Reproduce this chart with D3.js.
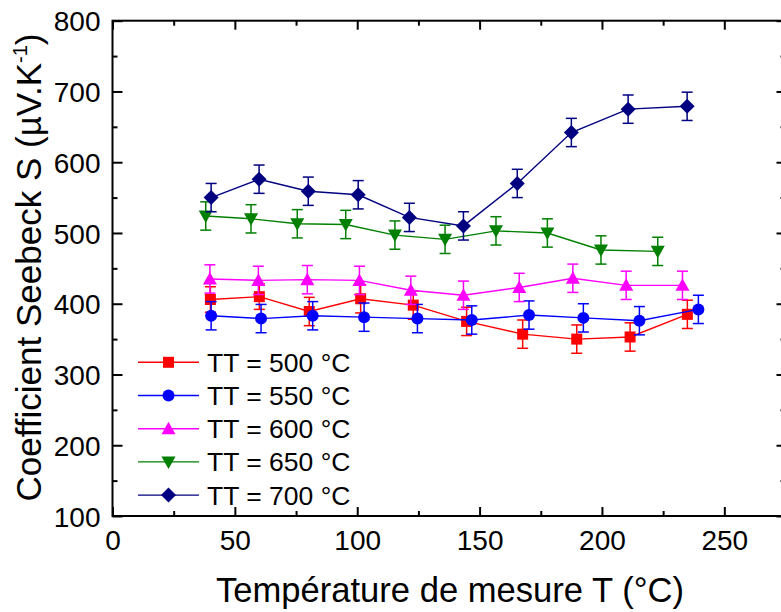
<!DOCTYPE html>
<html>
<head>
<meta charset="utf-8">
<script src="https://cdn.jsdelivr.net/npm/d3@7"></script>
<style>
html,body{margin:0;padding:0;background:#fff;overflow:hidden;}
svg{display:block;font-family:"Liberation Sans",Arial,sans-serif;}
</style>
</head>
<body>
<svg id="chart" width="781" height="612"></svg>
<script>
// ---- data ----
const seriesNames = ["TT = 500 °C", "TT = 550 °C", "TT = 600 °C", "TT = 650 °C", "TT = 700 °C"];
const seriesColors = ["#ff0000", "#0000ff", "#ff00ff", "#008000", "#000080"];
const seriesSymbols = ["square", "circle", "triangle", "triangleDown", "diamond"];

const x500 = [40, 60, 80.4, 101.4, 122.9, 144.7, 167.6, 189.7, 211.5, 234.9];
const s500 = [406, 410, 389, 407, 398, 375, 357, 350, 353, 385];
const e500 = [18, 18, 20, 20, 20, 20, 20, 20, 20, 20];

const x550 = [40.3, 60.7, 81.8, 102.8, 124.6, 146.8, 170.2, 192.4, 215.3, 239.4];
const s550 = [383, 379, 383, 381, 379, 377, 384, 380, 376, 392];
const e550 = [20, 20, 20, 20, 20, 20, 20, 20, 20, 20];

const x600 = [39.8, 59.6, 79.6, 100.9, 121.9, 143.4, 166.2, 188.1, 209.9, 232.9];
const s600 = [435, 433, 434, 433, 419, 412, 423, 436, 426, 426];
const e600 = [20, 20, 20, 20, 20, 20, 20, 20, 20, 20];

const x650 = [38.1, 56.6, 75.5, 95.3, 115.4, 135.9, 156.7, 177.7, 199.6, 222.8];
const s650 = [524, 520, 513, 512, 497, 491, 503, 500, 476, 474];
const e650 = [20, 20, 20, 20, 20, 20, 20, 20, 20, 20];

const x700 = [40.3, 59.9, 80.0, 100.4, 121.3, 143.4, 165.4, 187.5, 210.7, 234.8];
const s700 = [550, 576, 559, 554, 522, 510, 570, 642, 675, 679];
const e700 = [20, 20, 20, 20, 20, 20, 20, 20, 20, 20];

const xTicks = [0, 50, 100, 150, 200, 250];
const yTicks = [100, 200, 300, 400, 500, 600, 700, 800];
const xTitle = "Température de mesure T (°C)";
const yTitleMain = "Coefficient Seebeck S (µV.K";
const yTitleSup = "-1";
const yTitleEnd = ")";

const allX = [x500, x550, x600, x650, x700];
const allS = [s500, s550, s600, s650, s700];
const allE = [e500, e550, e600, e650, e700];

// ---- layout ----
const svg = d3.select("#chart");
const pLeft = 112.5, pRight = 785.5, pTop = 20.7, pBottom = 516;
const x = d3.scaleLinear().domain([0, 275]).range([pLeft, pRight]);
const y = d3.scaleLinear().domain([100, 800]).range([pBottom, pTop]);

const axisW = 2;
const g = svg.append("g");

// minor ticks
const xMinor = d3.range(25, 275, 50);
const yMinor = d3.range(150, 800, 100);

function drawAxis(axis, transform, ticks, size, labels) {
  const a = g.append("g").attr("transform", transform)
    .call(axis.tickValues(ticks).tickSizeInner(size).tickSizeOuter(0).tickFormat(labels ? d3.format("d") : ""));
  a.select(".domain").remove();
  a.selectAll(".tick line").attr("stroke", "#000").attr("stroke-width", 2);
  a.selectAll(".tick text").attr("fill", "#000").attr("font-size", 28).attr("font-family", "Liberation Sans, Arial, sans-serif");
  return a;
}
// bottom
const bx = drawAxis(d3.axisBottom(x), `translate(0,${pBottom})`, xTicks, -9, true);
bx.selectAll(".tick text").attr("y", 14).attr("dy", "0.71em");
drawAxis(d3.axisBottom(x), `translate(0,${pBottom})`, xMinor, -5, false);
// top
drawAxis(d3.axisTop(x), `translate(0,${pTop})`, xTicks, -9, false);
drawAxis(d3.axisTop(x), `translate(0,${pTop})`, xMinor, -5, false);
// left
const lyAx = drawAxis(d3.axisLeft(y), `translate(${pLeft},0)`, yTicks, -10, true);
lyAx.selectAll(".tick text").attr("x", -12).attr("dy", "0.36em");
drawAxis(d3.axisLeft(y), `translate(${pLeft},0)`, yMinor, -5, false);
// right
drawAxis(d3.axisRight(y), `translate(${pRight},0)`, yTicks, -9, false);
drawAxis(d3.axisRight(y), `translate(${pRight},0)`, yMinor, -5, false);

// frame
g.append("rect").attr("x", pLeft).attr("y", pTop).attr("width", pRight - pLeft).attr("height", pBottom - pTop)
  .attr("fill", "none").attr("stroke", "#000").attr("stroke-width", axisW);

// symbols
function drawSymbol(sel, type, cx, cy, color) {
  if (type === "square") {
    sel.append("rect").attr("x", cx - 5.5).attr("y", cy - 5.5).attr("width", 11).attr("height", 11).attr("fill", color);
  } else if (type === "circle") {
    sel.append("circle").attr("cx", cx).attr("cy", cy).attr("r", 6).attr("fill", color);
  } else if (type === "triangle") {
    sel.append("path").attr("d", `M${cx},${cy - 7}L${cx + 7},${cy + 5.5}L${cx - 7},${cy + 5.5}Z`).attr("fill", color);
  } else if (type === "triangleDown") {
    sel.append("path").attr("d", `M${cx},${cy + 7}L${cx + 7},${cy - 5.5}L${cx - 7},${cy - 5.5}Z`).attr("fill", color);
  } else if (type === "diamond") {
    sel.append("path").attr("d", `M${cx},${cy - 7.5}L${cx + 7.5},${cy}L${cx},${cy + 7.5}L${cx - 7.5},${cy}Z`).attr("fill", color);
  }
}

const line = d3.line().x(d => x(d[0])).y(d => y(d[1]));
allX.forEach((xs, i) => {
  const color = seriesColors[i];
  const pts = xs.map((v, j) => [v, allS[i][j], allE[i][j]]);
  const sg = g.append("g");
  sg.append("path").datum(pts).attr("d", line).attr("fill", "none").attr("stroke", color).attr("stroke-width", 1.4);
  pts.forEach(p => {
    const cx = x(p[0]), y1 = y(p[1] + p[2]), y2 = y(p[1] - p[2]);
    sg.append("line").attr("x1", cx).attr("x2", cx).attr("y1", y1).attr("y2", y2).attr("stroke", color).attr("stroke-width", 1.5);
    sg.append("line").attr("x1", cx - 5.5).attr("x2", cx + 5.5).attr("y1", y1).attr("y2", y1).attr("stroke", color).attr("stroke-width", 1.5);
    sg.append("line").attr("x1", cx - 5.5).attr("x2", cx + 5.5).attr("y1", y2).attr("y2", y2).attr("stroke", color).attr("stroke-width", 1.5);
  });
  pts.forEach(p => drawSymbol(sg, seriesSymbols[i], x(p[0]), y(p[1]), color));
});

// legend
const legY0 = 362.3, legDY = 33.2;
seriesNames.forEach((name, i) => {
  const ly = legY0 + i * legDY;
  const lg = g.append("g");
  lg.append("line").attr("x1", 138).attr("x2", 199).attr("y1", ly).attr("y2", ly)
    .attr("stroke", seriesColors[i]).attr("stroke-width", 1.4);
  drawSymbol(lg, seriesSymbols[i], 168.5, ly, seriesColors[i]);
  lg.append("text").attr("x", 207).attr("y", ly + 9.5).attr("font-size", 26.5).attr("fill", "#000").text(name);
});

// axis titles
g.append("text").attr("x", 450).attr("y", 601.7).attr("text-anchor", "middle")
  .attr("font-size", 34.6).attr("fill", "#000").text(xTitle);

const yt = g.append("text").attr("transform", `translate(40.5,267.5) rotate(-90)`)
  .attr("text-anchor", "middle").attr("font-size", 35).attr("fill", "#000");
yt.append("tspan").text(yTitleMain);
yt.append("tspan").attr("font-size", 20).attr("dy", -14).text(yTitleSup);
yt.append("tspan").attr("dy", 14).text(yTitleEnd);
</script>
</body>
</html>
